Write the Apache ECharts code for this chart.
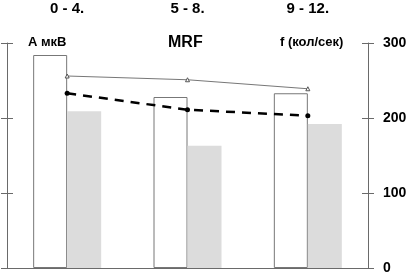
<!DOCTYPE html>
<html>
<head>
<meta charset="utf-8">
<script src="https://cdn.jsdelivr.net/npm/echarts@6/dist/echarts.min.js"></script>
<style>
  html, body { margin: 0; padding: 0; background: #fff; }
  #chart { width: 411px; height: 277px; }
</style>
</head>
<body>
<div id="chart"></div>
<script>
const ageGroups = ['0 - 4.', '5 - 8.', '9 - 12.']
const amplitude = [284, 228, 233]    // А мкВ, white bars
const mrf = [209, 163, 192]          // MRF, grey bars
const freqThin = [256, 251, 239]     // thin line, triangles
const freqDashed = [233, 211, 203]   // dashed line, dots

const font = 'Liberation Sans, Arial, sans-serif'
const axisGray = '#6a6a6a'

const chart = echarts.init(document.getElementById('chart'))

// ticks in the reference cross the axis line, so each axis is drawn twice:
// once with outside ticks and once with inside ticks
const valueAxis = (position, inside, showLine, labels) => ({
  type: 'value',
  position,
  min: 0,
  max: 300,
  interval: 100,
  axisLine: { show: showLine, lineStyle: { color: axisGray } },
  axisTick: { show: true, inside, length: 6, lineStyle: { color: axisGray } },
  axisLabel: labels
    ? { margin: 15, fontFamily: font, fontSize: 14, fontWeight: 'bold', color: '#000' }
    : { show: false },
  splitLine: { show: false },
})

const option = {
  animation: false,
  backgroundColor: '#fff',
  title: [
    { text: 'А мкВ', left: 28, top: 36, size: 13 },
    { text: 'MRF', left: 168, top: 35, size: 16 },
    { text: 'f (кол/сек)', left: 280, top: 36, size: 13 },
  ].map((t) => ({
    text: t.text,
    left: t.left,
    top: t.top,
    padding: 0,
    textStyle: { fontFamily: font, fontSize: t.size, fontWeight: 'bold', color: '#000' },
  })),
  grid: { left: 7, right: 43, top: 43, bottom: 9 },
  xAxis: [
    {
      type: 'category',
      data: ageGroups,
      position: 'bottom',
      axisLine: { lineStyle: { color: axisGray } },
      axisTick: { length: 7, lineStyle: { color: axisGray } },
      axisLabel: { show: false },
    },
    {
      type: 'category',
      data: ageGroups,
      position: 'top',
      axisLine: { show: false },
      axisTick: { show: false },
      axisLabel: {
        margin: 27,
        fontFamily: font,
        fontSize: 15,
        fontWeight: 'bold',
        color: '#000',
      },
    },
    {
      type: 'category',
      data: ageGroups,
      position: 'bottom',
      axisLine: { show: false },
      axisTick: { inside: true, length: 4, lineStyle: { color: axisGray } },
      axisLabel: { show: false },
    },
  ],
  yAxis: [
    valueAxis('left', false, true, false),
    valueAxis('right', true, true, true),
    valueAxis('left', true, false, false),
    valueAxis('right', false, false, false),
  ],
  series: [
    {
      type: 'bar',
      data: amplitude,
      barWidth: 34,
      barGap: '0%',
      itemStyle: { color: '#fff', borderColor: '#777', borderWidth: 1 },
    },
    {
      type: 'bar',
      data: mrf,
      barWidth: 34,
      barGap: '0%',
      itemStyle: { color: '#dcdcdc' },
    },
    {
      type: 'line',
      data: freqThin,
      symbol: 'triangle',
      symbolSize: 4,
      lineStyle: { color: '#777', width: 1 },
      itemStyle: { color: '#fff', borderColor: '#555', borderWidth: 1 },
      z: 5,
    },
    {
      type: 'line',
      data: freqDashed,
      symbol: 'circle',
      symbolSize: 5,
      lineStyle: { color: '#000', width: 2.5, type: [9, 7] },
      itemStyle: { color: '#000' },
      z: 6,
    },
  ],
}

chart.setOption(option)
</script>
</body>
</html>
